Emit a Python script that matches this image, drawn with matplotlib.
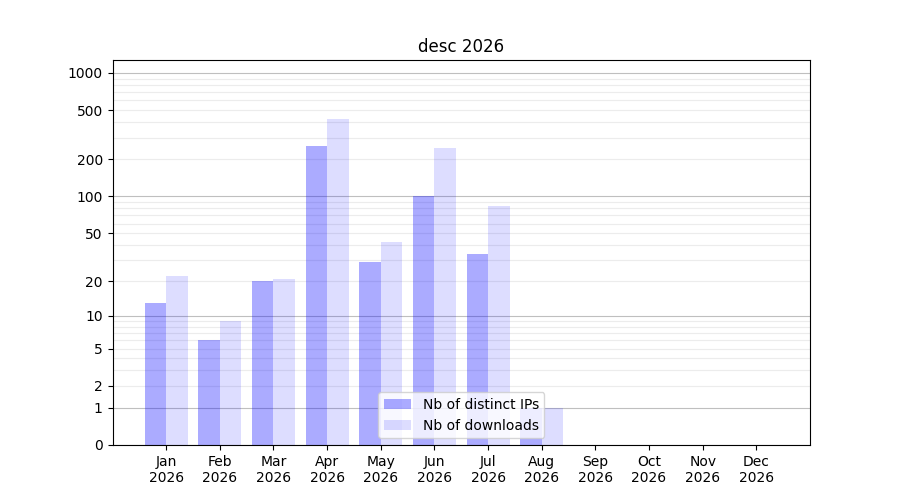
import matplotlib
matplotlib.use('Agg')
import matplotlib.pyplot as plt
import numpy as np

months = ['Jan', 'Feb', 'Mar', 'Apr', 'May', 'Jun',
          'Jul', 'Aug', 'Sep', 'Oct', 'Nov', 'Dec']
year = '2026'
distinct_ips = [13, 6, 20, 256, 29, 100, 34, 1, 0, 0, 0, 0]
downloads = [22, 9, 21, 425, 42, 247, 84, 1, 0, 0, 0, 0]

major_vals = [0, 1, 10, 100, 1000]
labeled_vals = [0, 1, 2, 5, 10, 20, 50, 100, 200, 500, 1000]


def fwd(y):
    return np.log10(1 + np.clip(y, 0, None))


def inv(y):
    return 10 ** y - 1


fig, ax = plt.subplots(figsize=(9, 5), dpi=100)
ax.set_yscale('function', functions=(fwd, inv))

x = np.arange(len(months))
width = 0.4
ax.bar(x, distinct_ips, width=-width, align='edge', color='blue', alpha=0.33,
       label='Nb of distinct IPs', zorder=2)
ax.bar(x, downloads, width=width, align='edge', color='blue', alpha=0.135,
       label='Nb of downloads', zorder=2)

ax.set_xticks(x)
ax.set_xticklabels([m + '\n' + year for m in months])
ax.set_xlim(-1, 12)

# y ticks: labelled ones as major, the rest of each decade as minor
ax.set_yticks(labeled_vals)
ax.set_yticklabels([str(v) for v in labeled_vals])
minor = [m * 10 ** k for k in range(3) for m in range(2, 10)
         if m * 10 ** k not in labeled_vals]
ax.set_yticks(minor, minor=True)
ax.tick_params(axis='y', which='minor', length=0)
ax.set_ylim(0, 1273)

ax.grid(True, axis='y', which='both', zorder=0)
for tick, v in zip(ax.yaxis.get_major_ticks(), labeled_vals):
    if v in major_vals:
        tick.gridline.set_color('#bfbfbf')
    else:
        tick.gridline.set_color('#ececec')
    tick.gridline.set_linewidth(0.8)
for tick in ax.yaxis.get_minor_ticks():
    tick.gridline.set_color('#ececec')
    tick.gridline.set_linewidth(0.8)
ax.set_axisbelow(True)

ax.set_title('desc ' + year)
ax.legend(loc='lower center')

fig.savefig('out.png')
